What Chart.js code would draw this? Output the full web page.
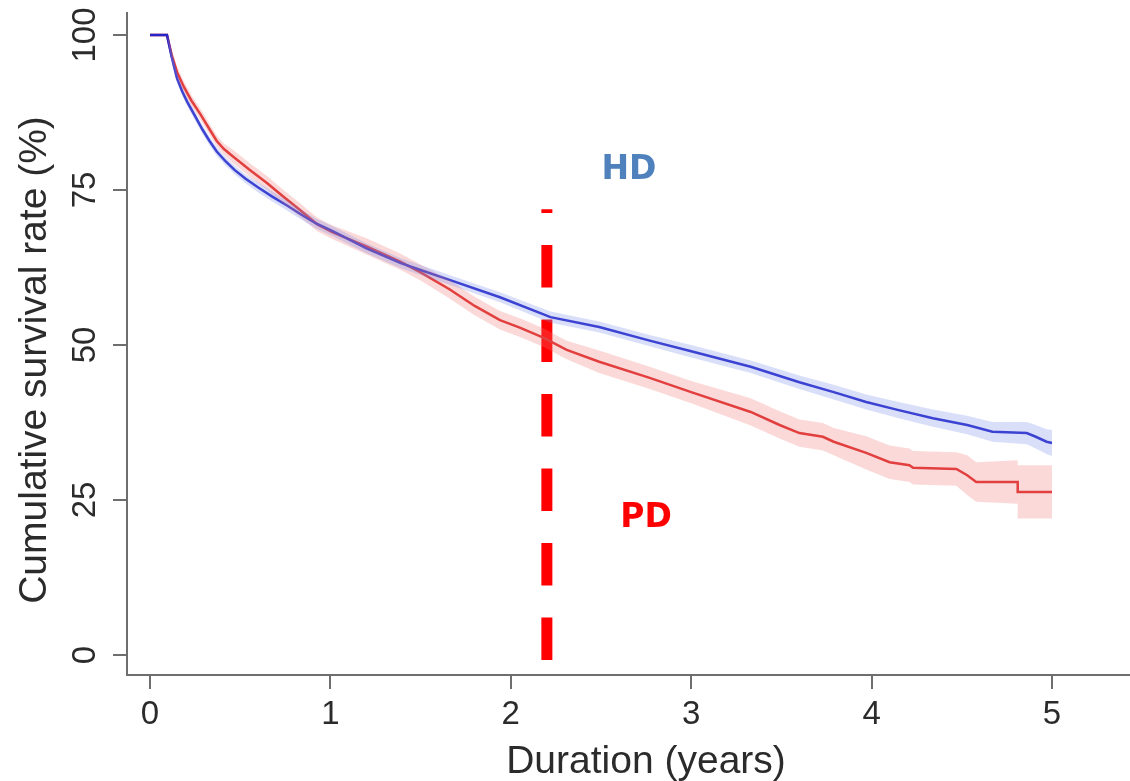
<!DOCTYPE html>
<html>
<head>
<meta charset="utf-8">
<title>Cumulative survival: HD vs PD</title>
<script src="https://cdn.jsdelivr.net/npm/chart.js@4.4.1/dist/chart.umd.min.js"></script>
<style>
  html, body { margin: 0; padding: 0; background: #ffffff; overflow: hidden; }
  #wrap { width: 1130px; height: 781px; }
</style>
</head>
<body>
<div id="wrap"><canvas id="km" width="1130" height="781"></canvas></div>
<script>
// Axis ticks
const xTicks = [0, 1, 2, 3, 4, 5];
const yTicks = [0, 25, 50, 75, 100];

// Haemodialysis (HD) survival curve with confidence band
const hdTime = [0, 0.094, 0.12, 0.15, 0.18, 0.21, 0.25, 0.29, 0.33, 0.37, 0.42, 0.47, 0.53, 0.6, 0.68, 0.76, 0.84, 0.92, 1.01, 1.2, 1.39, 1.5, 1.66, 1.94, 2.22, 2.49, 2.77, 3.0, 3.33, 3.6, 3.79, 3.97, 4.15, 4.34, 4.53, 4.67, 4.86, 4.91, 4.97, 5.0];
const hdSurv = [100, 100, 96.5, 93.0, 90.8, 89.0, 86.9, 84.8, 82.9, 81.2, 79.6, 78.2, 76.8, 75.4, 73.9, 72.5, 71.0, 69.6, 68.4, 65.6, 63.2, 62.1, 60.5, 57.7, 54.5, 52.9, 50.7, 49.0, 46.5, 44.0, 42.4, 40.8, 39.5, 38.2, 37.1, 36.0, 35.8, 35.2, 34.4, 34.2];
const hdLow  = [100, 100, 95.9, 92.3, 90.1, 88.3, 86.2, 84.1, 82.2, 80.5, 78.9, 77.5, 76.1, 74.6, 73.1, 71.7, 70.2, 68.8, 67.6, 64.8, 62.4, 61.3, 59.7, 56.9, 53.6, 52.0, 49.8, 48.0, 45.5, 42.9, 41.2, 39.6, 38.2, 36.8, 35.6, 34.4, 34.0, 33.3, 32.4, 32.1];
const hdHigh = [100, 100, 97.1, 93.7, 91.5, 89.7, 87.6, 85.5, 83.6, 81.9, 80.3, 78.9, 77.5, 76.2, 74.7, 73.3, 71.8, 70.4, 69.2, 66.4, 64.0, 62.9, 61.3, 58.5, 55.4, 53.8, 51.6, 50.0, 47.5, 45.1, 43.6, 42.0, 40.8, 39.6, 38.6, 37.6, 37.6, 37.1, 36.4, 36.3];

// Peritoneal dialysis (PD) survival curve with confidence band
const pdTime = [0, 0.094, 0.12, 0.15, 0.19, 0.23, 0.28, 0.33, 0.37, 0.41, 0.46, 0.55, 0.65, 0.74, 0.83, 0.93, 1.01, 1.2, 1.39, 1.5, 1.66, 1.8, 1.94, 2.05, 2.18, 2.31, 2.49, 2.77, 3.0, 3.33, 3.49, 3.6, 3.73, 3.79, 3.97, 4.10, 4.21, 4.23, 4.47, 4.53, 4.58, 4.81, 4.81, 5.0];
const pdSurv = [100, 100, 96.8, 94.0, 91.5, 89.4, 87.2, 84.8, 82.9, 81.6, 80.4, 78.3, 76.1, 73.9, 71.8, 69.4, 68.2, 65.9, 63.4, 61.7, 59.0, 56.3, 54.0, 52.8, 51.2, 49.2, 47.3, 44.7, 42.4, 39.2, 37.1, 35.8, 35.2, 34.4, 32.6, 31.1, 30.6, 30.2, 30.0, 29.0, 27.9, 27.9, 26.3, 26.3];
const pdLow  = [100, 100, 95.9, 93.1, 90.6, 88.5, 86.3, 83.9, 82.0, 80.7, 79.3, 77.2, 75.0, 72.8, 70.7, 68.3, 67.1, 64.6, 62.1, 60.4, 57.5, 54.8, 52.5, 51.3, 49.7, 47.7, 45.5, 42.9, 40.6, 37.0, 34.9, 33.6, 33.0, 32.2, 29.9, 28.4, 27.9, 27.5, 27.3, 25.8, 24.7, 24.4, 22.0, 22.0];
const pdHigh = [100, 100, 97.7, 94.9, 92.4, 90.3, 88.1, 85.7, 83.8, 82.5, 81.5, 79.4, 77.2, 75.0, 72.9, 70.5, 69.3, 67.2, 64.7, 63.0, 60.5, 57.8, 55.5, 54.3, 52.7, 50.7, 49.1, 46.5, 44.2, 41.4, 39.3, 38.0, 37.4, 36.6, 35.3, 33.8, 33.3, 32.9, 32.7, 32.2, 31.1, 31.4, 30.6, 30.6];

// Vertical cut-off marker at 2.2 years
const cutoffTime  = [2.2, 2.2];
const cutoffValue = [-0.8, 71.9];

// Group labels placed in data coordinates
const groupNames = ['HD', 'PD'];
const groupColors = ['#4f81bd', '#ff0000'];
const groupLabelTime  = [2.655, 2.75];
const groupLabelValue = [78.2, 22.1];

const toPoints = (t, v) => t.map((ti, i) => ({ x: ti, y: v[i] }));

const FONT = '"Liberation Sans", Arial, Helvetica, sans-serif';
const AXIS_GREY = '#6e6e6e';
const TEXT_GREY = '#2b2b2b';

// Axis titles and group labels
const textLayer = {
  id: 'textLayer',
  afterDraw(chart) {
    const { ctx, chartArea, scales: { x, y } } = chart;
    ctx.save();
    ctx.fillStyle = TEXT_GREY;
    ctx.font = '39px ' + FONT;
    ctx.textAlign = 'center';
    ctx.textBaseline = 'alphabetic';
    ctx.fillText('Duration (years)', chartArea.left + 519, chartArea.bottom + 98);
    ctx.save();
    ctx.translate(45.5, chartArea.top + 347);
    ctx.rotate(-Math.PI / 2);
    ctx.fillText('Cumulative survival rate (%)', 0, 0);
    ctx.restore();

    ctx.font = 'bold 33px "DejaVu Sans", Verdana, sans-serif';
    ctx.textBaseline = 'middle';
    groupNames.forEach((name, i) => {
      ctx.fillStyle = groupColors[i];
      ctx.fillText(name, x.getPixelForValue(groupLabelTime[i]), y.getPixelForValue(groupLabelValue[i]));
    });
    ctx.restore();
  }
};

const bandLine = (label, t, v, fill, color) => ({
  label, data: toPoints(t, v), fill, backgroundColor: color,
  borderColor: 'transparent', borderWidth: 0, pointRadius: 0
});

new Chart(document.getElementById('km'), {
  type: 'line',
  data: {
    datasets: [
      bandLine('HD lower', hdTime, hdLow, false, 'transparent'),
      bandLine('HD upper', hdTime, hdHigh, '-1', 'rgba(120, 140, 235, 0.28)'),
      bandLine('PD lower', pdTime, pdLow, false, 'transparent'),
      bandLine('PD upper', pdTime, pdHigh, '-1', 'rgba(240, 120, 120, 0.28)'),
      { label: 'HD', data: toPoints(hdTime, hdSurv), borderColor: '#2626c8', borderWidth: 2.5, pointRadius: 0, fill: false },
      { label: 'PD', data: toPoints(pdTime, pdSurv), borderColor: '#dd2a2a', borderWidth: 2.5, pointRadius: 0, fill: false },
      { label: 'cut-off', data: toPoints(cutoffTime, cutoffValue), borderColor: '#ff0000', borderWidth: 11,
        borderDash: [42.5, 32], borderCapStyle: 'butt', pointRadius: 0, fill: false }
    ]
  },
  options: {
    responsive: false,
    animation: false,
    devicePixelRatio: 1,
    layout: { padding: { top: 13, left: 0, right: 0, bottom: 0 } },
    elements: { line: { tension: 0 } },
    plugins: { legend: { display: false }, tooltip: { enabled: false } },
    scales: {
      x: {
        type: 'linear',
        min: -0.1275,
        max: 5.4325,
        afterBuildTicks: s => { s.ticks = xTicks.map(v => ({ value: v })); },
        afterFit: s => { s.height = 106; s.paddingLeft = 0; s.paddingRight = 0; },
        grid: { display: true, drawOnChartArea: false, drawTicks: true, tickLength: 14, color: AXIS_GREY, lineWidth: 2 },
        border: { display: true, color: AXIS_GREY, width: 2 },
        ticks: { autoSkip: false, maxRotation: 0, padding: 6, color: TEXT_GREY, font: { family: FONT, size: 33 } }
      },
      y: {
        type: 'linear',
        min: -3.226,
        max: 103.55,
        afterBuildTicks: s => { s.ticks = yTicks.map(v => ({ value: v })); },
        afterFit: s => { s.width = 127; s.paddingTop = 0; s.paddingBottom = 0; },
        grid: { display: true, drawOnChartArea: false, drawTicks: true, tickLength: 14, color: AXIS_GREY, lineWidth: 2 },
        border: { display: true, color: AXIS_GREY, width: 2 },
        ticks: { minRotation: 90, maxRotation: 90, crossAlign: 'center', padding: 0, color: TEXT_GREY, font: { family: FONT, size: 33 } }
      }
    }
  },
  plugins: [textLayer]
});
</script>
</body>
</html>
